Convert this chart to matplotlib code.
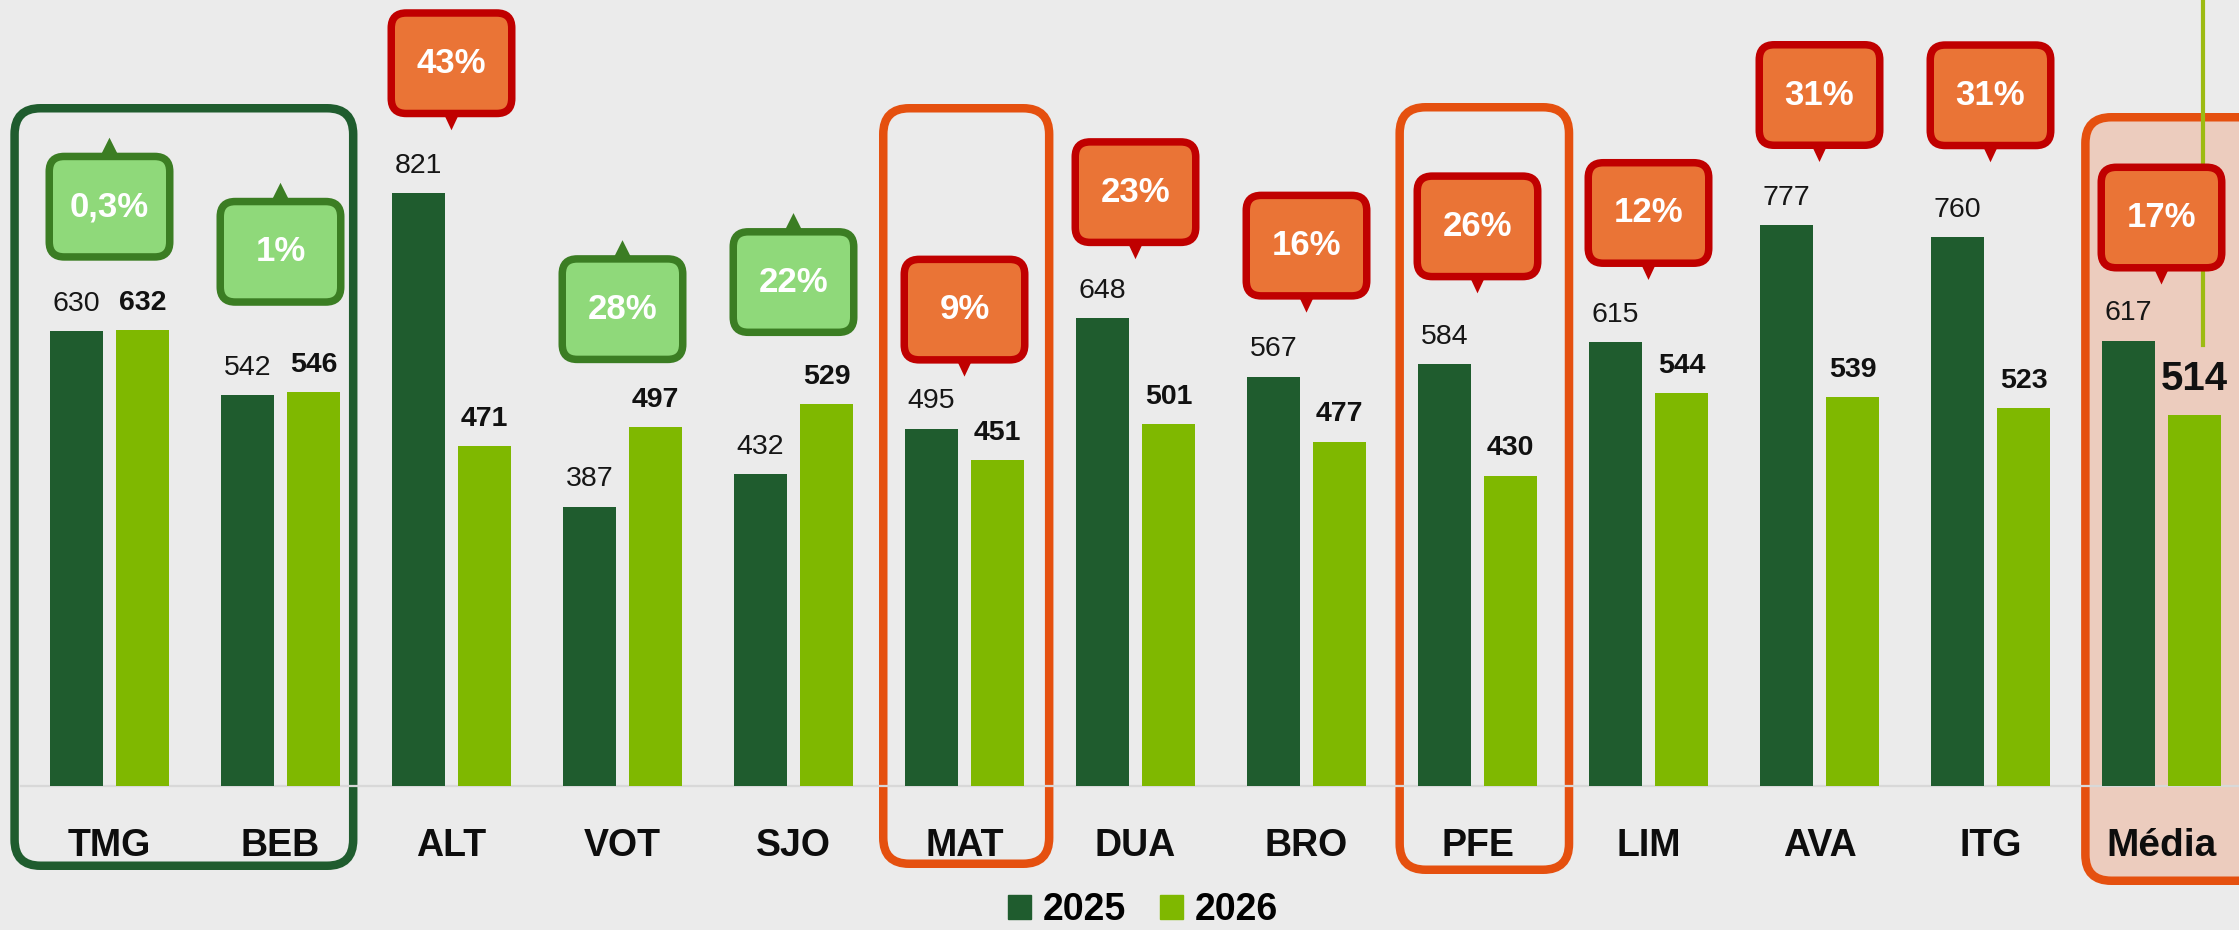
import matplotlib
matplotlib.use("Agg")
import matplotlib.pyplot as plt
import matplotlib.transforms as mtransforms
from matplotlib.patches import FancyBboxPatch, Polygon, Patch

plt.rcParams["font.family"] = ["Liberation Sans", "DejaVu Sans"]

# Dados
categorias = ["TMG", "BEB", "ALT", "VOT", "SJO", "MAT", "DUA", "BRO", "PFE",
              "LIM", "AVA", "ITG", "Média"]
valores_2025 = [630, 542, 821, 387, 432, 495, 648, 567, 584, 615, 777, 760, 617]
valores_2026 = [632, 546, 471, 497, 529, 451, 501, 477, 430, 544, 539, 523, 514]

# Layout (pixels): altura da base do balão acima da barra mais alta
balao_lift = [69, 86, 76, 64, 68, 65, 72, 77, 84, 75, 76, 88, 69]

COR_2025 = "#1f5c2e"
COR_2026 = "#7fb800"
VERDE_FILL, VERDE_BORDA = "#8fd97a", "#3b7d23"
LARANJA_FILL, LARANJA_BORDA = "#ea7436", "#c00000"
FUNDO = "#ebebeb"

W_PX, H_PX = 2239, 930
BASE_PX = 786          # linha de base (pixels a partir do topo)
PX_POR_UN = 0.722      # pixels por unidade de valor
PASSO = 171            # pixels entre grupos
X0_PX = 109.5          # centro do primeiro grupo

fig = plt.figure(figsize=(W_PX / 100, H_PX / 100), dpi=100, facecolor=FUNDO)
ax = fig.add_axes([0, 0, 1, 1])
ax.set_facecolor(FUNDO)
ax.set_xlim(-X0_PX / PASSO, (W_PX - X0_PX) / PASSO)
ax.set_ylim(-(H_PX - BASE_PX) / PX_POR_UN, BASE_PX / PX_POR_UN)
ax.axis("off")

n = len(categorias)
xs = list(range(n))
largura = 0.31
desloc = 0.193


def px_x(xd):
    return ax.transData.transform((xd, 0))[0]


# Molduras dos grupos: (i0, i1, pad_esq, pad_dir, topo_px, base_px, borda, preenchimento)
molduras = [
    (0, 1, 0.58, 0.45, 104, 870, "#1f5c2e", "none"),
    (5, 5, 0.50, 0.52, 104, 868, "#e5500f", "none"),
    (8, 8, 0.48, 0.56, 103, 874, "#e5500f", "none"),
    (12, 12, 0.47, 0.65, 113, 885, "#e5500f", "#ecccbe"),
]
lw_px = 8.5
for i0, i1, pe, pd, top, bot, ec, fc in molduras:
    x0 = px_x(i0 - pe) + lw_px / 2
    x1 = px_x(i1 + pd) - lw_px / 2
    y0 = H_PX - bot + lw_px / 2
    y1 = H_PX - top - lw_px / 2
    ax.add_patch(FancyBboxPatch((x0, y0), x1 - x0, y1 - y0,
                                boxstyle="round,pad=0,rounding_size=26",
                                transform=mtransforms.IdentityTransform(),
                                ec=ec, fc=fc, lw=lw_px * 0.72, zorder=0.5))

# linha de base
ax.plot([ax.get_xlim()[0] + 21 / PASSO, ax.get_xlim()[1]], [0, 0],
        color="#d8d8d8", lw=1.6, zorder=1)

# linha vertical verde (Média)
ax.plot([(2203 - X0_PX) / PASSO] * 2, [(BASE_PX - 345) / PX_POR_UN, ax.get_ylim()[1]],
        color="#9dbb12", lw=3, zorder=0.8)

# Barras
xs_25 = [x - desloc for x in xs]
xs_26 = [x + desloc for x in xs]
ax.bar(xs_25, valores_2025, width=largura, color=COR_2025, zorder=2, label="2025")
ax.bar(xs_26, valores_2026, width=largura, color=COR_2026, zorder=2, label="2026")

# Rótulos de valor
for i in xs:
    ax.annotate(str(valores_2025[i]), (xs_25[i], valores_2025[i]),
                xytext=(0, 14.5), textcoords="offset points",
                ha="center", va="baseline", fontsize=20.5, color="#161616", zorder=3)
    grande = categorias[i] == "Média"
    ax.annotate(str(valores_2026[i]), (xs_26[i], valores_2026[i]),
                xytext=(0, 18 if grande else 14.5), textcoords="offset points",
                ha="center", va="baseline", fontsize=29 if grande else 20.5,
                fontweight="bold", color="#111111", zorder=3)
    ax.text(i, -(856 - BASE_PX) / PX_POR_UN, categorias[i], ha="center", va="baseline",
            fontsize=28 if grande else 27, fontweight="bold", color="#0d0d0d", zorder=3)


def formata_pct(v25, v26):
    p = abs(v26 / v25 - 1) * 100
    if round(p) == 0:
        return f"{p:.1f}%".replace(".", ",")
    return f"{round(p)}%"


# Balões de variação
BW, BH, BLW = 1.28, 1.08, 0.075
for i in xs:
    v25, v26 = valores_2025[i], valores_2026[i]
    sobe = v26 >= v25
    topo = max(v25, v26)
    tr = fig.dpi_scale_trans + mtransforms.ScaledTranslation(i, topo, ax.transData)
    b = balao_lift[i] / 100
    fc, ec = (VERDE_FILL, VERDE_BORDA) if sobe else (LARANJA_FILL, LARANJA_BORDA)
    if sobe:
        tri = [(-0.09, b + BH - 0.03), (0.09, b + BH - 0.03), (0, b + BH + 0.15)]
    else:
        tri = [(-0.075, b + 0.03), (0.075, b + 0.03), (0, b - 0.13)]
    ax.add_patch(Polygon(tri, closed=True, transform=tr, fc=ec, ec="none", zorder=4))
    ax.add_patch(FancyBboxPatch((-BW / 2 + BLW / 2, b + BLW / 2), BW - BLW, BH - BLW,
                                boxstyle="round,pad=0,rounding_size=0.15",
                                transform=tr, fc=fc, ec=ec, lw=BLW * 72, zorder=5))
    ax.text(0, b + BH / 2, formata_pct(v25, v26), transform=tr, ha="center",
            va="center", fontsize=25, fontweight="bold", color="white", zorder=6)

# Legenda
handles = [Patch(color=COR_2025, label="2025"), Patch(color=COR_2026, label="2026")]
fig.legend(handles=handles, loc="center", bbox_to_anchor=(0.5105, 0.021), ncol=2,
           frameon=False, borderpad=0, handlelength=0.62, handleheight=0.62,
           handletextpad=0.32, columnspacing=0.9,
           prop={"size": 27, "weight": "bold"})

fig.savefig("out.png", dpi=100, facecolor=FUNDO)
